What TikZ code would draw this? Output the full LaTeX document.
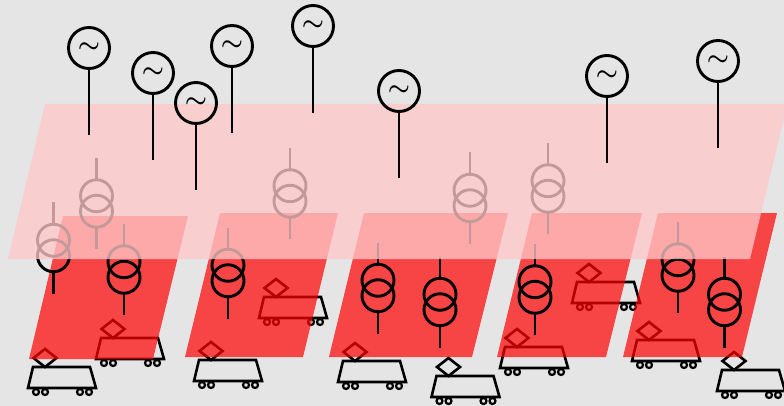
\documentclass[tikz,border=0pt]{standalone}
\definecolor{bggray}{RGB}{229,229,229}
\definecolor{lightplane}{RGB}{255,200,200}
\tikzset{
	plane/.style={fill=red, fill opacity=0.7, draw=none},
	upperplane/.style={fill=lightplane, fill opacity=0.77, draw=none},
	wire/.style={line width=2.9pt},
	trainline/.style={line width=2.6pt, line join=miter},
	tilde/.style={inner sep=0pt, font=\fontsize{32}{32}\selectfont\boldmath}
}
\begin{document}
\begin{tikzpicture}[x=1pt,y=-1pt]

	\useasboundingbox (0,0) rectangle (784,406);
	\fill[bggray] (0,0) rectangle (784,406);

	% Trains
	\foreach \x/\y in {62/388,130/359,228/381,293/318,372/382,465.5/397,534/368,606/303,666/361,751/391} {
		\draw[trainline] (\x-34,\y) -- (\x+34,\y) -- (\x+28,\y-21) -- (\x-29,\y-21) -- cycle;
		\draw[trainline] (\x-17,\y-39) -- (\x-5.5,\y-30) -- (\x-17,\y-21) -- (\x-28.5,\y-30) -- cycle;
		\foreach \w in {-26,-17,18,27}
		\draw[line width=2.2pt] (\x+\w,\y+4) circle (3pt);
	}

	% Lower planes
	\fill[plane] (29,359) -- (63,216) -- (188,216) -- (153,359) -- cycle;
	\fill[plane] (185,357) -- (220,213) -- (338,213) -- (303,357) -- cycle;
	\fill[plane] (329,357) -- (364,213) -- (508,213) -- (472,357) -- cycle;
	\fill[plane] (497,357) -- (532,213) -- (642,213) -- (606,357) -- cycle;
	\fill[plane] (623,357) -- (658,213) -- (777,213) -- (742,357) -- cycle;

	% Transformers
	\foreach \x/\y in {53.5/248,124/269.5,96.5/203.5,228/273,290/193.5,378/288,440/302,470/198,548/188.5,535/289.5,678/267.5,724.5/302} {
		\draw[wire] (\x,\y-45.5) -- (\x,\y-23.5);
		\draw[wire] (\x,\y+23.5) -- (\x,\y+45.5);
		\draw[wire] (\x,\y-7.75) circle (16pt);
		\draw[wire] (\x,\y+7.75) circle (16pt);
	}

	% Upper plane
	\fill[upperplane] (8,259) -- (45,104) -- (784,104) -- (784,118) -- (750,259) -- cycle;

	% Generators
	\foreach \i/\x/\y in {1/89/48,2/153/73,3/196/103,4/232/46,5/313/26,6/399/91,7/607/76,8/718/61} {
		\node[tilde] (gen\i) at (\x,\y) {$\sim$};
		\draw[wire] (\x,\y) circle (20.5pt);
		\draw[wire] (\x,\y+20.5) -- (\x,\y+87);
	}

\end{tikzpicture}
\end{document}
